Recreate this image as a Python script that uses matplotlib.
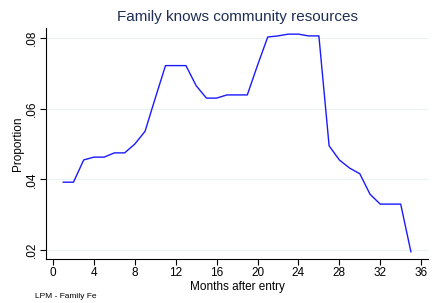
import matplotlib.pyplot as plt
import numpy as np

plt.rcParams['font.family'] = ['Liberation Sans', 'DejaVu Sans']

months = list(range(1, 36))
proportion = [0.0392, 0.0392, 0.0455, 0.0463, 0.0463, 0.0475, 0.0475, 0.0500,
              0.0536, 0.0630, 0.0722, 0.0722, 0.0722, 0.0665, 0.0630, 0.0630,
              0.0639, 0.0639, 0.0639, 0.0723, 0.0803, 0.0806, 0.0811, 0.0811,
              0.0806, 0.0806, 0.0495, 0.0455, 0.0432, 0.0416, 0.0358, 0.0330,
              0.0330, 0.0330, 0.0195]
xticks = list(range(0, 37, 4))
yticks = [0.02, 0.04, 0.06, 0.08]
ylabels = ['.02', '.04', '.06', '.08']

fig = plt.figure(figsize=(4.45, 3.03), dpi=100)
ax = fig.add_axes([0.1034, 0.145, 0.8586, 0.7626])
ax.plot(months, proportion, color='#1a1aff', lw=1)

ax.set_xlim(-0.685, 36.68)
ax.set_ylim(0.01745, 0.08284)
ax.set_xticks(xticks)
ax.set_yticks(yticks)
ax.set_yticklabels(ylabels, rotation=90, va='center')
ax.tick_params(labelsize=8.5, length=4, width=0.8, pad=2)
for y in yticks:
    ax.axhline(y, color='#eaf2f3', lw=0.8, zorder=0)
for s in ['top', 'right']:
    ax.spines[s].set_visible(False)
ax.set_xlabel('Months after entry', fontsize=8.5, labelpad=1)
ax.set_ylabel('Proportion', fontsize=8.5, labelpad=1)
ax.set_title('Family knows community resources', fontsize=11, color='#1e2d53', pad=5)
fig.text(35 / 445, 1 - 296 / 303, 'LPM - Family Fe', fontsize=6, va='center')

fig.savefig('out.png', dpi=100, facecolor='white')
